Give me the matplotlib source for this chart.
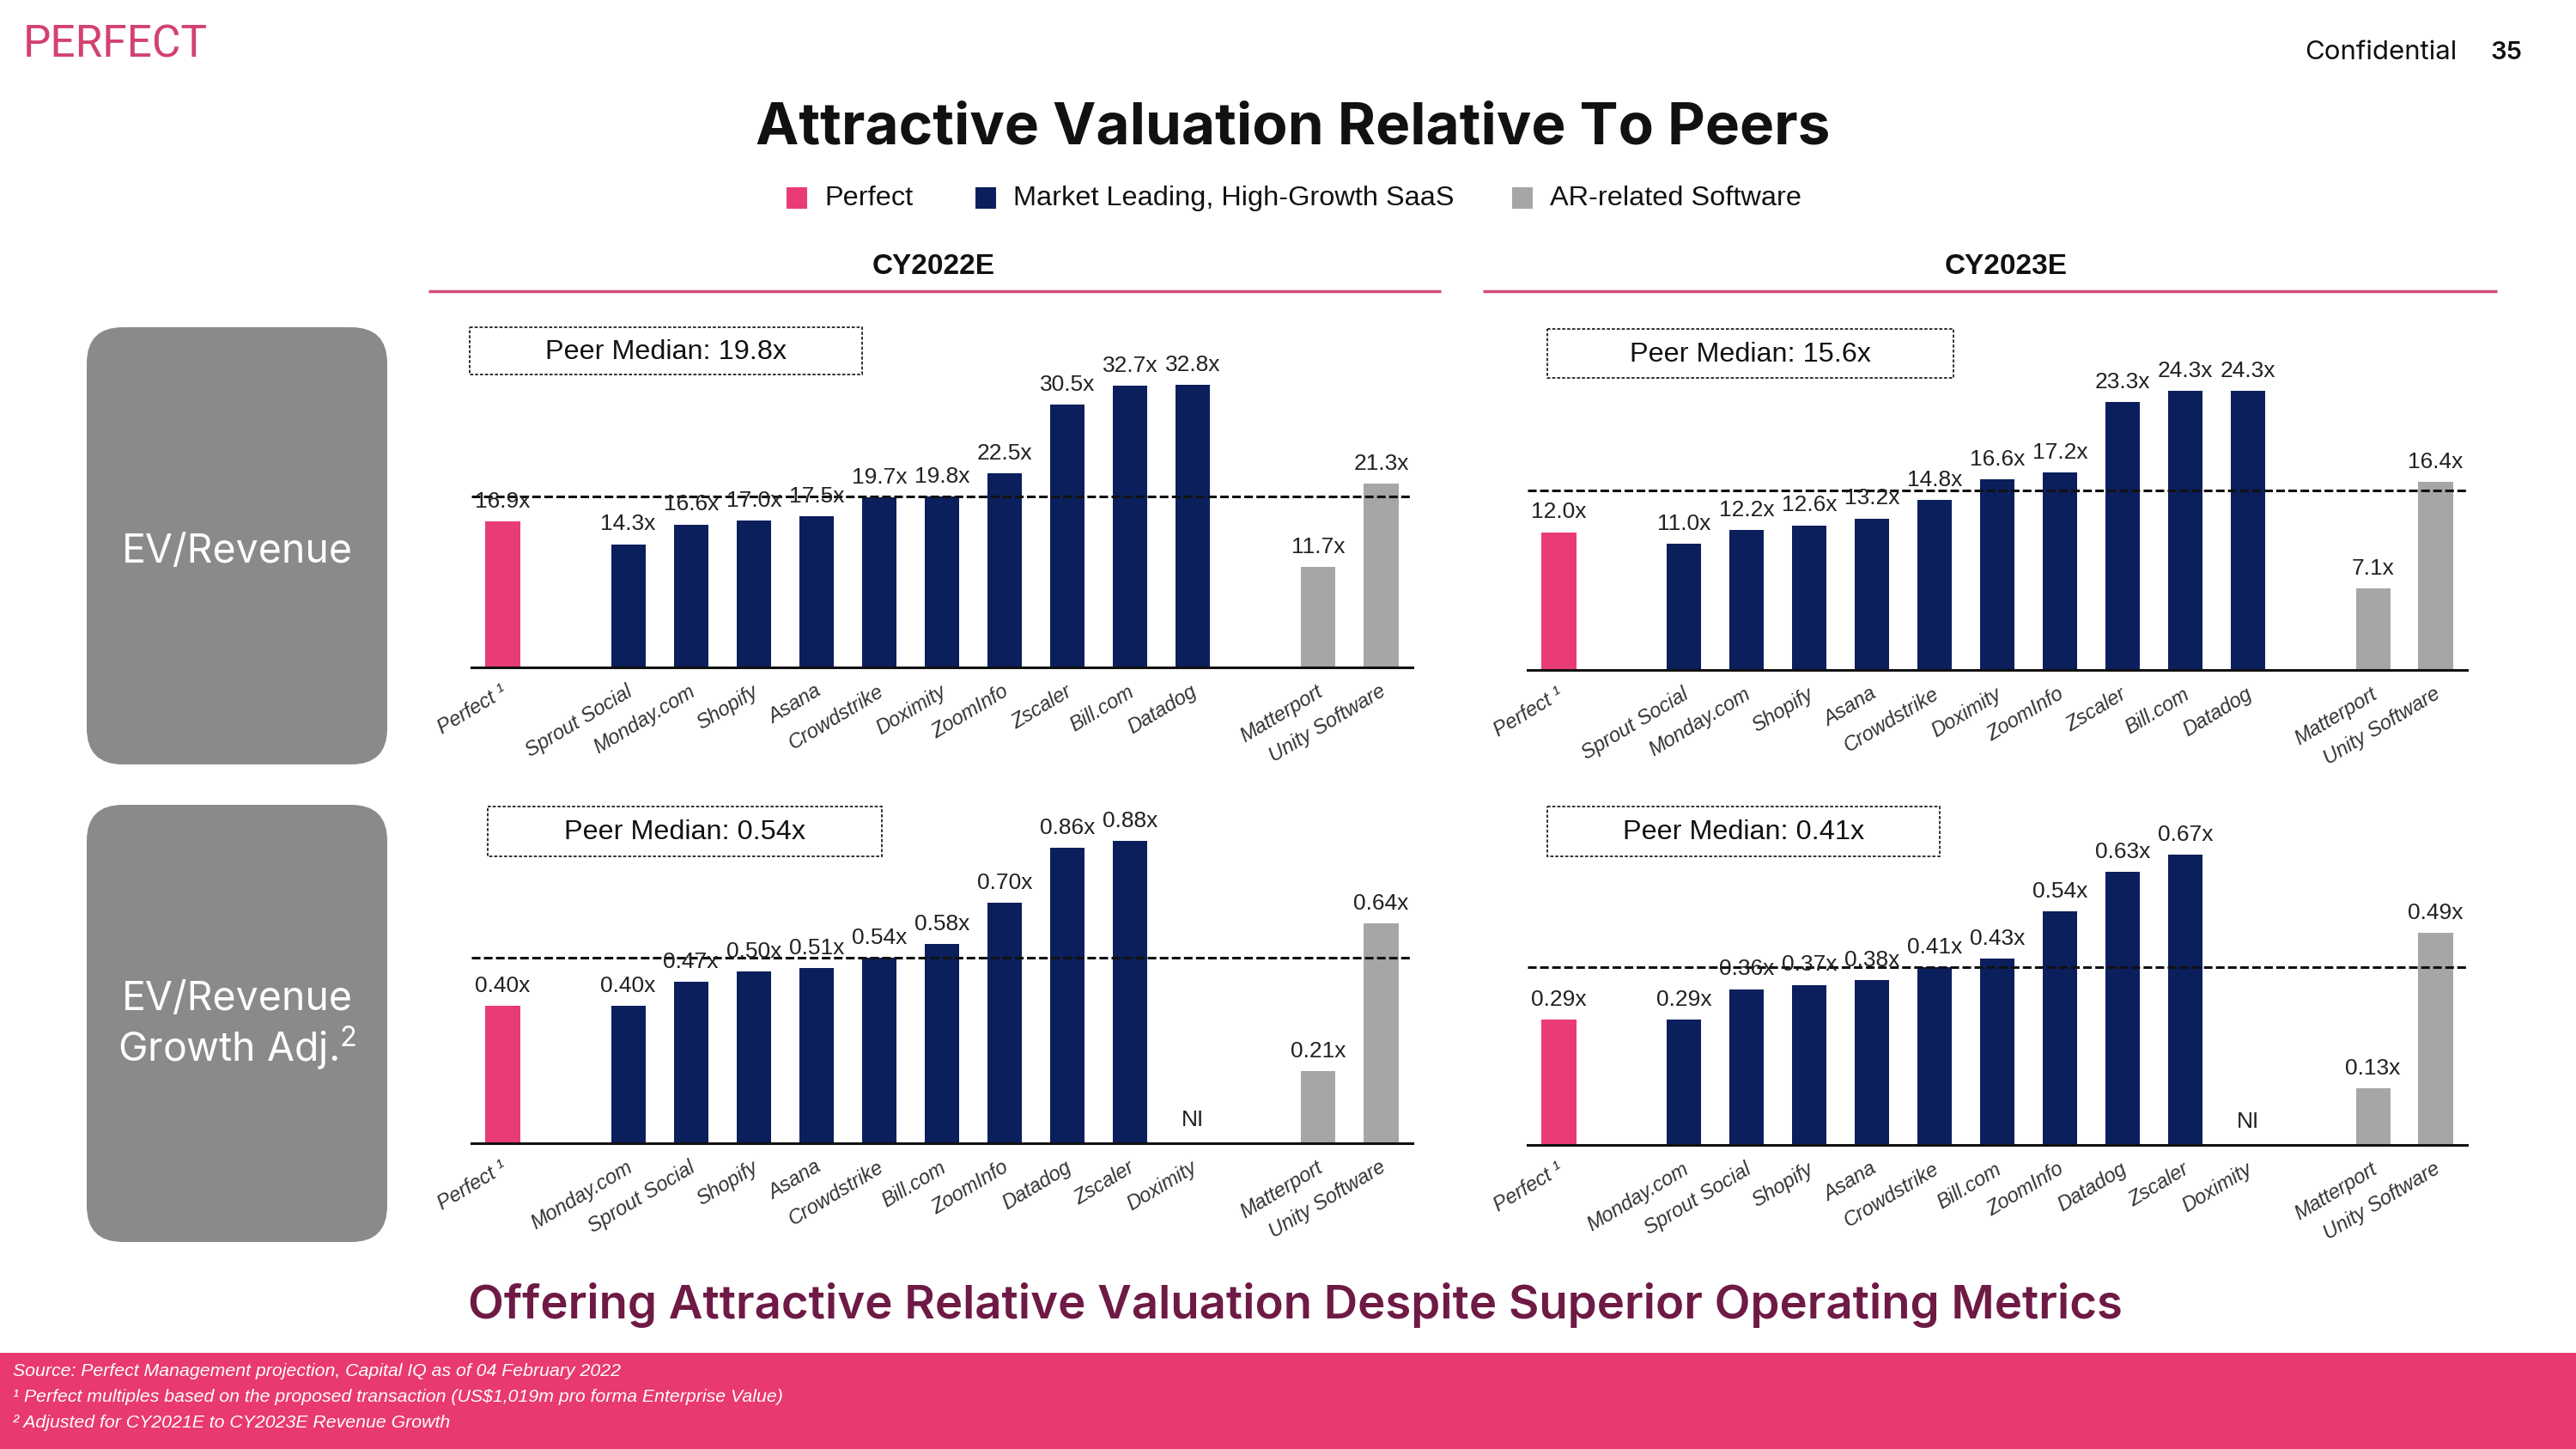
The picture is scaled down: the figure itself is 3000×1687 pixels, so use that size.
import matplotlib
matplotlib.use("Agg")
import matplotlib.pyplot as plt
from matplotlib.patches import FancyBboxPatch, Rectangle
import matplotlib.transforms as mtrans

plt.rcParams["mathtext.fontset"] = "custom"
plt.rcParams["mathtext.rm"] = "Inter"

# ---------------- data ----------------
cats_rev = ["Perfect ¹", "Sprout Social", "Monday.com", "Shopify", "Asana", "Crowdstrike",
            "Doximity", "ZoomInfo", "Zscaler", "Bill.com", "Datadog", "Matterport", "Unity Software"]
rev_2022 = [16.9, 14.3, 16.6, 17.0, 17.5, 19.7, 19.8, 22.5, 30.5, 32.7, 32.8, 11.7, 21.3]
rev_2023 = [12.0, 11.0, 12.2, 12.6, 13.2, 14.8, 16.6, 17.2, 23.3, 24.3, 24.3, 7.1, 16.4]

cats_adj = ["Perfect ¹", "Monday.com", "Sprout Social", "Shopify", "Asana", "Crowdstrike",
            "Bill.com", "ZoomInfo", "Datadog", "Zscaler", "Doximity", "Matterport", "Unity Software"]
adj_2022 = [0.40, 0.40, 0.47, 0.50, 0.51, 0.54, 0.58, 0.70, 0.86, 0.88, None, 0.21, 0.64]
adj_2023 = [0.29, 0.29, 0.36, 0.37, 0.38, 0.41, 0.43, 0.54, 0.63, 0.67, None, 0.13, 0.49]

groups = ["Perfect"] + ["SaaS"] * 10 + ["AR"] * 2
medians = {"rev22": 19.8, "rev23": 15.6, "adj22": 0.54, "adj23": 0.41}
legend_labels = ["Perfect", "Market Leading, High-Growth SaaS", "AR-related Software"]

colors = {"Perfect": "#e93c74", "SaaS": "#0b1f5c", "AR": "#a6a6a6"}

SANS = ["Liberation Sans", "DejaVu Sans"]
GEO = ["Inter", "Lato", "DejaVu Sans"]

W, H = 3000, 1687
fig = plt.figure(figsize=(30, 16.87), dpi=100)
bg = fig.add_axes([0, 0, 1, 1])
bg.set_xlim(0, W)
bg.set_ylim(H, 0)
bg.axis("off")

# positions with gaps between groups
def positions(gr):
    pos, p = [], 0
    for i, g in enumerate(gr):
        if i > 0 and g != gr[i - 1]:
            p += 1
        pos.append(p)
        p += 1
    return pos

pos = positions(groups)


def add_panel(left, right, base, top, values, cats, median, px_per_unit, fmt, mbox, mtext):
    ax = fig.add_axes([left / W, 1 - base / H, (right - left) / W, (base - top) / H])
    ax.patch.set_alpha(0)
    ax.set_xlim(-0.5, pos[-1] + 0.5)
    ax.set_ylim(0, (base - top) / px_per_unit)
    for p, v, g in zip(pos, values, groups):
        if v is None:
            ax.annotate("NI", (p, 0), xytext=(0, 11), textcoords="offset points",
                        ha="center", va="bottom", fontsize=19, family=SANS, color="#222222")
        else:
            ax.bar(p, v, width=0.55, color=colors[g], zorder=2)
            ax.annotate(fmt.format(v), (p, v), xytext=(0, 8), textcoords="offset points",
                        ha="center", va="bottom", fontsize=19, family=SANS, color="#222222",
                        zorder=4)
    ax.axhline(median, color="#111111", ls=(0, (3.3, 1.3)), lw=2.2, zorder=3, clip_on=False)
    for s in ["top", "left", "right"]:
        ax.spines[s].set_visible(False)
    ax.spines["bottom"].set_linewidth(2.2)
    ax.spines["bottom"].set_color("#111111")
    ax.spines["bottom"].set_zorder(5)
    ax.set_yticks([])
    ax.set_xticks(pos)
    ax.set_xticklabels(cats, rotation=31, ha="right", va="center", rotation_mode="anchor",
                       fontstyle="italic", fontsize=17, family=SANS, color="#333333")
    ax.tick_params(axis="x", length=0, pad=19)
    off = mtrans.ScaledTranslation(3 / 100, 0, fig.dpi_scale_trans)
    for lab in ax.get_xticklabels():
        lab.set_transform(lab.get_transform() + off)
    # peer median box
    x0, y0, x1, y1 = mbox
    bg.add_patch(Rectangle((x0, y0), x1 - x0, y1 - y0, fill=False, ec="#222222",
                           lw=1.3, ls=(0, (2, 1.2))))
    bg.text((x0 + x1) / 2, (y0 + y1) / 2 + 1, mtext, ha="center", va="center",
            fontsize=23.3, family=SANS, color="#111111")
    return ax


add_panel(549, 1645, 777, 360, rev_2022, cats_rev, medians["rev22"], 10.03, "{:.1f}x",
          (547, 381, 1004, 436), "Peer Median: 19.8x")
add_panel(1779, 2873, 780, 360, rev_2023, cats_rev, medians["rev23"], 13.37, "{:.1f}x",
          (1802, 383, 2275, 440), "Peer Median: 15.6x")
add_panel(549, 1645, 1331, 925, adj_2022, cats_adj, medians["adj22"], 400.0, "{:.2f}x",
          (568, 939, 1027, 997), "Peer Median: 0.54x")
add_panel(1779, 2873, 1333, 925, adj_2023, cats_adj, medians["adj23"], 504.0, "{:.2f}x",
          (1802, 939, 2259, 997), "Peer Median: 0.41x")

# ---------------- decorations ----------------
bg.text(27, 52, "PERFECT", ha="left", va="center", fontsize=37,
        family=["Liberation Sans Narrow", "Roboto", "DejaVu Sans"], color="#d3416f")
bg.text(2684, 61, "Confidential", ha="left", va="center", fontsize=22.4, family=GEO, color="#111111")
bg.text(2937, 61, "35", ha="right", va="center", fontsize=21, family=GEO, color="#111111",
        fontweight="semibold")

bg.text(1506, 150, "Attractive Valuation Relative To Peers", ha="center", va="center",
        fontsize=48.6, fontweight="bold", family=GEO, color="#111111")

leg_x = [928, 1148, 1773]
for x, lab, key in zip(leg_x, legend_labels, ["Perfect", "SaaS", "AR"]):
    bg.add_patch(Rectangle((x - 12, 218), 24, 25, color=colors[key], lw=0))
    bg.text(x + 32, 231, lab, ha="left", va="center", fontsize=23.4, family=SANS, color="#111111")

bg.text(1087, 310, "CY2022E", ha="center", va="center", fontsize=24, fontweight="bold",
        family=SANS, color="#111111")
bg.text(2336, 310, "CY2023E", ha="center", va="center", fontsize=24, fontweight="bold",
        family=SANS, color="#111111")
bg.plot([499, 1678], [339, 339], color="#d44a7a", lw=2.5, solid_capstyle="butt")
bg.plot([1727, 2908], [339, 339], color="#d44a7a", lw=2.5, solid_capstyle="butt")

for (y0, y1) in [(381, 890), (937, 1446)]:
    bg.add_patch(FancyBboxPatch((101, y0), 350, y1 - y0,
                                boxstyle="round,pad=0,rounding_size=42",
                                fc="#8a8a8a", ec="none"))
bg.text(276, 643, "EV/Revenue", ha="center", va="center", fontsize=33.4, family=GEO, color="white")
bg.text(276, 1164, "EV/Revenue", ha="center", va="center", fontsize=33.4, family=GEO, color="white")
bg.text(276, 1220, "Growth Adj.$^{2}$", ha="center", va="center", fontsize=33.4, family=GEO,
        color="white")

bg.text(1508, 1519, "Offering Attractive Relative Valuation Despite Superior Operating Metrics",
        ha="center", va="center", fontsize=39.3, fontweight="semibold", family=GEO, color="#6e1a45")

bg.add_patch(Rectangle((0, 1575), W, H - 1575, fc="#e83a70", ec="none"))
foot = ["Source: Perfect Management projection, Capital IQ as of 04 February 2022",
        "¹ Perfect multiples based on the proposed transaction (US$1,019m pro forma Enterprise Value)",
        "² Adjusted for CY2021E to CY2023E Revenue Growth"]
for y, t in zip([1596, 1626, 1657], foot):
    bg.text(15, y, t, ha="left", va="center", fontsize=15.3, fontstyle="italic", family=SANS,
            color="white")

fig.savefig("out.png", dpi=100)
